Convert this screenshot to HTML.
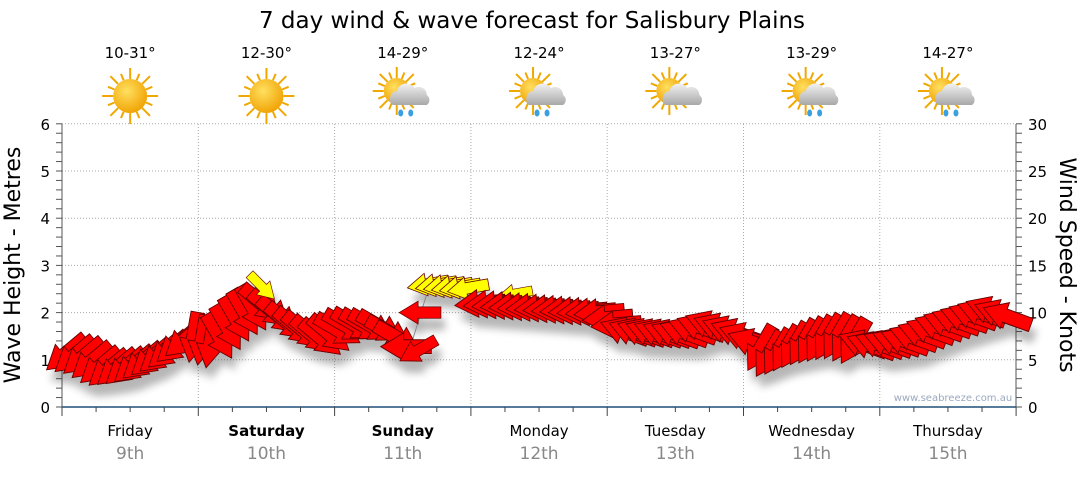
<!DOCTYPE html>
<html><head><meta charset="utf-8"><style>
body{margin:0;background:#fff;width:1080px;height:475px;overflow:hidden;font-family:"DejaVu Sans","Liberation Sans",sans-serif}
</style></head><body>
<svg id="s" width="1080" height="475" xmlns="http://www.w3.org/2000/svg" font-family="DejaVu Sans, Liberation Sans, sans-serif">
<defs>
<filter id="sh" x="-30%" y="-30%" width="160%" height="180%"><feGaussianBlur stdDeviation="4"/></filter>
<radialGradient id="sun" cx="0.4" cy="0.35" r="0.7"><stop offset="0" stop-color="#ffe060"/><stop offset="1" stop-color="#f0a000"/></radialGradient>
<linearGradient id="cl" x1="0" y1="0" x2="0" y2="1"><stop offset="0" stop-color="#f2f2f2"/><stop offset="1" stop-color="#a8a8a8"/></linearGradient>
</defs>
<text x="532" y="28" font-size="23" text-anchor="middle" fill="#000">7 day wind &amp; wave forecast for Salisbury Plains</text>
<g id="grid"></g>
<g id="ax"></g>
<g id="icons"></g>
<g id="shadows" filter="url(#sh)" opacity="0.35"></g>
<g id="arrows"></g>
<text x="953" y="401" font-size="10" text-anchor="middle" fill="#9aa8c0">www.seabreeze.com.au</text>
<text transform="translate(20,265) rotate(-90)" font-size="22" text-anchor="middle">Wave Height - Metres</text>
<text transform="translate(1060,265) rotate(90)" font-size="22" text-anchor="middle">Wind Speed - Knots</text>
</svg>
<script>
const NS="http://www.w3.org/2000/svg";
function el(p,t,a,txt){const e=document.createElementNS(NS,t);for(const k in a)e.setAttribute(k,a[k]);if(txt!==undefined)e.textContent=txt;document.getElementById(p).appendChild(e);return e;}
const X0=62,X1=1016,Y0=407,U=47.2;
const Y=v=>Y0-v*U;
for(let i=1;i<=6;i++)el("grid","line",{x1:X0,x2:X1,y1:Y(i),y2:Y(i),stroke:"#aaa","stroke-dasharray":"1,2"});
for(let d=1;d<7;d++){const x=X0+d*136.3;el("grid","line",{x1:x,x2:x,y1:124,y2:Y0,stroke:"#aaa","stroke-dasharray":"1,2"});}
el("ax","line",{x1:X0,x2:X0,y1:124,y2:Y0,stroke:"#555"});
el("ax","line",{x1:X1,x2:X1,y1:124,y2:Y0,stroke:"#555"});
el("ax","line",{x1:X0,x2:X1,y1:Y0,y2:Y0,stroke:"#1f4e79","stroke-width":1.5});
for(let i=0;i<=6;i++){el("ax","text",{x:50,y:Y(i)+6,"font-size":15,"text-anchor":"end"},i);
 el("ax","text",{x:1028,y:Y(i)+6,"font-size":15},i*5);}
for(let i=0;i<=30;i++){const y=Y0-i*U/5;el("ax","line",{x1:X0-6,x2:X0,y1:y,y2:y,stroke:"#555"});el("ax","line",{x1:X1,x2:X1+6,y1:y,y2:y,stroke:"#555"});}
for(let i=0;i<=28;i++){const x=X0+i*136.3/4;el("ax","line",{x1:x,x2:x,y1:Y0,y2:Y0+(i%4==0?9:5),stroke:"#444"});}
const days=["Friday","Saturday","Sunday","Monday","Tuesday","Wednesday","Thursday"];
const dates=["9th","10th","11th","12th","13th","14th","15th"];
const temps=["10-31°","12-30°","14-29°","12-24°","13-27°","13-29°","14-27°"];
const types=[0,0,1,2,3,1,1];
days.forEach((d,i)=>{const cx=X0+136.3*(i+0.5);
 el("ax","text",{x:cx,y:436,"font-size":15,"text-anchor":"middle","font-weight":(i==1||i==2)?"bold":"normal"},d);
 el("ax","text",{x:cx,y:459,"font-size":17,"text-anchor":"middle",fill:"#888"},dates[i]);
 el("icons","text",{x:cx,y:58,"font-size":15,"text-anchor":"middle"},temps[i]);
 const t=types[i];const sx=t==0?cx:cx-6,sy=t==0?96:91,r=t==0?17:13;
 for(let k=0;k<16;k++){const a=k*Math.PI/8;const L=r+(k%2?7:11);el("icons","line",{x1:sx+Math.cos(a)*r,y1:sy+Math.sin(a)*r,x2:sx+Math.cos(a)*L,y2:sy+Math.sin(a)*L,stroke:"#f0a800","stroke-width":2});}
 el("icons","circle",{cx:sx,cy:sy,r:r,fill:"url(#sun)"});
 if(t>0){el("icons","path",{d:`M${cx-10} ${105} a8 8 0 0 1 4 -14 a10 10 0 0 1 18 -3 a8 8 0 0 1 12 7 a6 6 0 0 1 0 10 z`,fill:"url(#cl)"});
  if(t!=3){for(const dx of [-2,8])el("icons","ellipse",{cx:cx+dx,cy:113,rx:2.5,ry:3.5,fill:"#3aa0e0"});}}
});
const kp=[[62,1.15],[85,1.05],[105,0.8],[130,0.85],[165,1.15],[190,1.5],[212,1.35],[240,1.95],[262,2.2],[290,1.75],[320,1.45],[350,1.75],[380,1.7],[398,1.45],[412,1.15],
[478,2.2],[540,2.1],[600,2.0],[625,1.6],[680,1.55],[710,1.75],[740,1.55],[770,1.1],[800,1.35],[835,1.5],[870,1.3],[905,1.4],[945,1.75],[990,2.05],[1016,1.85]];
function h(x){for(let i=0;i<kp.length-1;i++)if(x>=kp[i][0]&&x<=kp[i+1][0]){const t=(x-kp[i][0])/(kp[i+1][0]-kp[i][0]);return kp[i][1]+t*(kp[i+1][1]-kp[i][1]);}return 1.8;}
function ang(x){if(x<190)return 140;if(x<215)return 100;if(x<260)return 60;if(x<330)return 40;if(x<400)return 30;if(x<478)return 180;if(x<620)return 175;if(x<760)return 200;if(x<860)return 120;return 200;}
function arrow(g,x,y,a,col,s){const p="M22 0 L2 -12 L2 -6 L-22 -6 L-22 6 L2 6 L2 12 Z";
 const e=el(g,"path",{d:p,transform:`translate(${x},${y}) rotate(${a}) scale(${s})`,fill:col,stroke:g=="shadows"?"none":"#600","stroke-width":0.8});
 if(g=="shadows")e.setAttribute("fill","#333");}
el("arrows","line",{x1:411,y1:345,x2:428,y2:290,stroke:"#888"});
const pts=[];
for(let x=66;x<=412;x+=8.5)pts.push([x,Y(h(x)),ang(x),"#ff0000",1.15]);
pts.push([420,Y(2.0),180,"#ff0000",0.95]);pts.push([418,Y(1.2),150,"#ff0000",0.95]);
for(let x=428;x<=474;x+=8)pts.push([x,Y(2.6-(x-428)*0.002),170,"#ffff00",0.95]);
pts.push([262,Y(2.55),45,"#ffff00",0.8]);pts.push([515,Y(2.4),170,"#ffff00",0.8]);
for(let x=480;x<=1012;x+=8.5)pts.push([x,Y(h(x)),ang(x),"#ff0000",1.15]);
pts.forEach(p=>arrow("shadows",p[0]+4,p[1]+12,p[2],"#333",p[4]));
pts.forEach(p=>arrow("arrows",p[0],p[1],p[2],p[3],p[4]));
</script>
</body></html>
